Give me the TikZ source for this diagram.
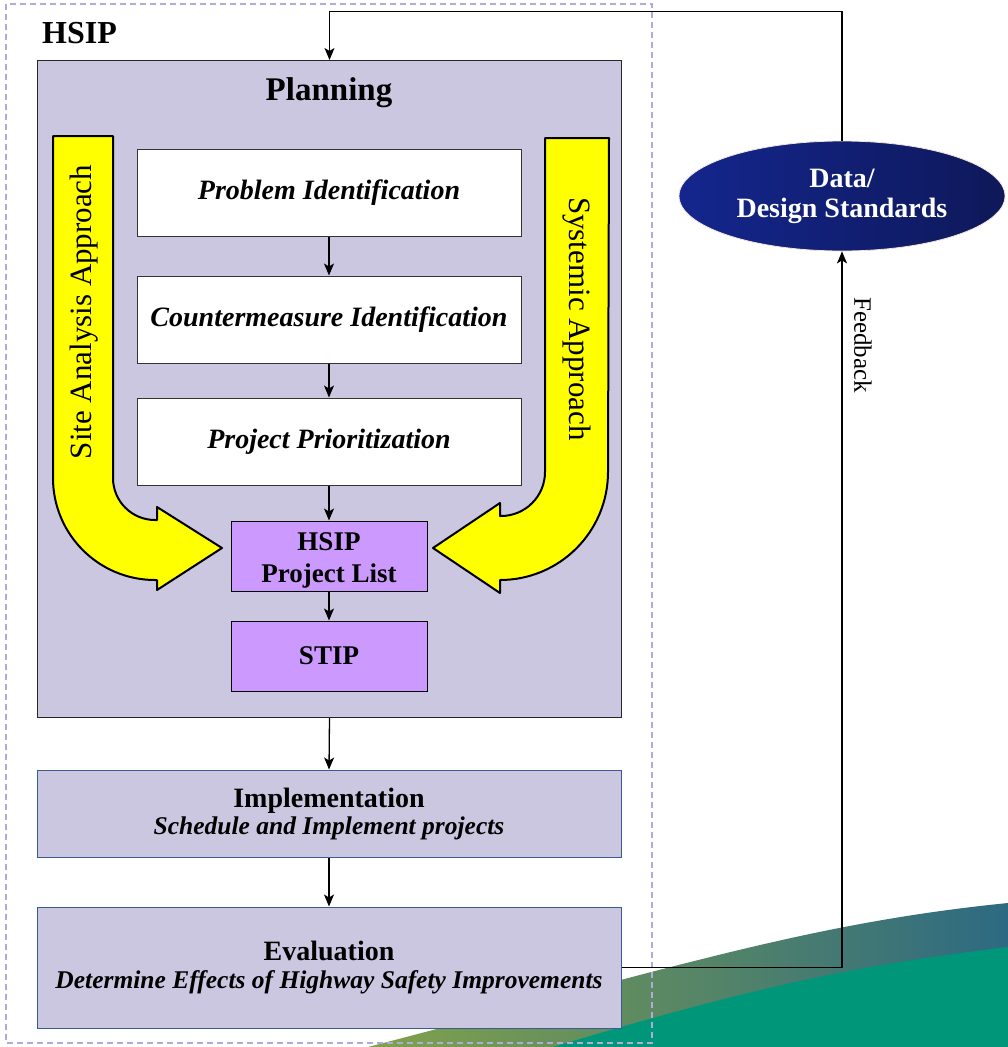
\documentclass[tikz,border=0pt]{standalone}
\usepackage{fontspec}
\setmainfont{Liberation Serif}
\usetikzlibrary{arrows.meta,shapes.geometric}
\definecolor{lav}{HTML}{CBC7E1}
\definecolor{dashlav}{HTML}{B0ACDA}
\definecolor{violetbox}{HTML}{CC99FF}
\definecolor{navyA}{HTML}{14268E}
\definecolor{navyB}{HTML}{0E1859}
\definecolor{boxblue}{HTML}{3A5A94}
\definecolor{olivec}{HTML}{82A24A}
\definecolor{tealblue}{HTML}{2D6A82}
\definecolor{tealgreen}{HTML}{00967A}
\definecolor{arrowyellow}{HTML}{FFFF00}
\newcommand{\fsz}[2]{\fontsize{#1}{#2}\selectfont}
\tikzset{
  conn/.style={draw=black, line width=1.3pt, -{Stealth[length=12pt,width=10pt,inset=3pt]}},
  whitebox/.style={draw=black!80, line width=1pt, fill=white, minimum width=384pt, minimum height=87pt, inner sep=0pt, font=\fsz{28}{32}\bfseries\itshape},
  violetstep/.style={draw=black, line width=1pt, fill=violetbox, minimum width=196pt, minimum height=70pt, inner sep=0pt, align=center, font=\fsz{27}{32}\bfseries},
  widebox/.style={draw=boxblue, line width=1pt, fill=lav, minimum width=584pt, inner sep=0pt, align=center},
  bigarrow/.style={draw=black, line width=2pt, fill=arrowyellow, line join=round},
}
\begin{document}
\begin{tikzpicture}[x=1pt,y=-1pt]
\fill[white] (0,0) rectangle (1008,1047);
\useasboundingbox (0,0) rectangle (1008,1047);
% background swoosh
\shade[left color=olivec, right color=tealblue]
  (368,1047) .. controls (668,969) and (808,923) .. (1008,903) -- (1008,1047) -- cycle;
\fill[tealgreen]
  (553,1047) .. controls (753,987) and (858,965) .. (1008,947) -- (1008,1047) -- cycle;
% outer dashed frame
\draw[dashlav, line width=1.2pt, dash pattern=on 6pt off 4pt] (6,4) rectangle (652,1043);
\node[anchor=base west, font=\fsz{32}{36}\bfseries, inner sep=0pt] (hsip) at (42,43) {HSIP};
% planning box
\node[draw=black!85, line width=1pt, fill=lav, minimum width=584pt, minimum height=657pt, inner sep=0pt, anchor=north west] (plan) at (37,60) {};
\node[font=\fsz{33}{36}\bfseries, inner sep=0pt, anchor=base] (plantitle) at (329,100) {Planning};
% yellow bent arrows
\draw[bigarrow] (53,136) -- (113,136) -- (113,478) arc[start angle=180, end angle=90, radius=42]
  -- (157,520) -- (157,507) -- (222,548) -- (157,590) -- (157,580) -- (155,580)
  arc[start angle=90, end angle=180, radius=102] -- cycle;
\draw[bigarrow] (609,138) -- (545,138) -- (545,472) arc[start angle=0, end angle=90, radius=44]
  -- (500,516) -- (500,503) -- (433,548) -- (500,593) -- (500,580)
  arc[start angle=90, end angle=0, radius=108] -- cycle;
\node[rotate=90, font=\fsz{31}{34}, inner sep=0pt] (sitelbl) at (84,312) {Site Analysis Approach};
\node[rotate=-90, font=\fsz{31}{34}, inner sep=0pt] (syslbl) at (577,319) {Systemic Approach};
% process boxes
\node[whitebox] (prob) at (329,192.5) {Problem Identification};
\node[whitebox] (counter) at (329,319.5) {Countermeasure Identification};
\node[whitebox] (prior) at (329,441.5) {Project Prioritization};
\node[violetstep] (list) at (329,556) {\rule{0pt}{27pt}HSIP\\Project List};
\node[violetstep] (stip) at (329,656) {STIP};
\node[widebox, minimum height=87pt, font=\fsz{28}{27}] (impl) at (329,813.5)
  {\bfseries Implementation\\{\fsz{25.5}{27}\bfseries\itshape Schedule and Implement projects}};
\node[widebox, minimum height=121pt, font=\fsz{28}{28}] (eval) at (329,967.5)
  {\bfseries Evaluation\\{\fsz{25.5}{28}\bfseries\itshape Determine Effects of Highway Safety Improvements}};
% data ellipse
\node[ellipse, draw=white!80!brown, line width=0.8pt, left color=navyA, right color=navyB,
  minimum width=326pt, minimum height=110pt, inner sep=0pt, align=center, text=white,
  font=\fsz{28}{30}\bfseries] (data) at (842,196) {Data/\\Design Standards};
% connectors
\draw[conn] (prob.south) -- (counter.north);
\draw[conn] (counter.south) -- (prior.north);
\draw[conn] (prior.south) -- (list.north);
\draw[conn] (list.south) -- (stip.north);
\draw[conn] (plan.south) -- (impl.north);
\draw[conn] (impl.south) -- (eval.north);
\draw[conn] (data.north) -- ++(0,-129) -| (plan.north);
\draw[conn] (eval.east) -| (data.south);
\node[rotate=-90, font=\fsz{25}{28}, inner sep=0pt] (fb) at (863,345) {Feedback};
\end{tikzpicture}
\end{document}
